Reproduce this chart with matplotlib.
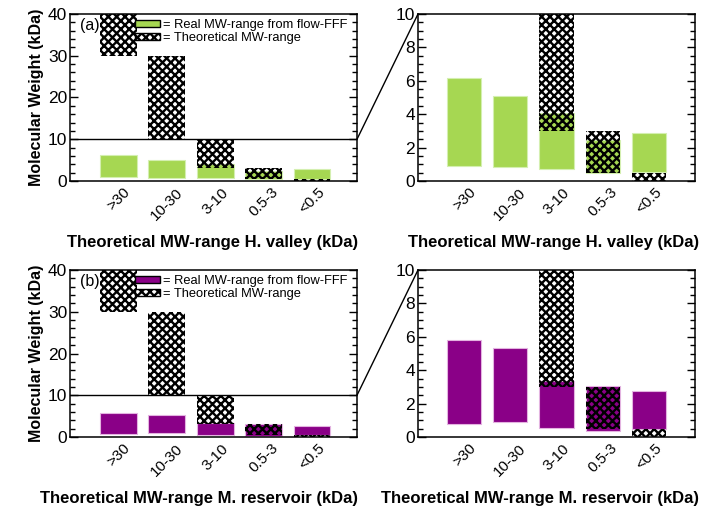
import matplotlib
matplotlib.use("Agg")
import matplotlib.pyplot as plt
from matplotlib.patches import Patch, ConnectionPatch
from matplotlib.ticker import MultipleLocator

plt.rcParams['font.family'] = ['Liberation Sans', 'DejaVu Sans']
plt.rcParams['hatch.linewidth'] = 1.7

categories = [">30", "10-30", "3-10", "0.5-3", "<0.5"]
theo_low = [30, 10, 3, 0.5, 0]
theo_high = [40, 30, 10, 3, 0.5]

hv_low = [0.88, 0.82, 0.70, 0.46, 0.52]
hv_high = [6.15, 5.08, 4.05, 2.45, 2.90]

mr_low = [0.80, 0.88, 0.56, 0.35, 0.45]
mr_high = [5.80, 5.34, 3.36, 3.08, 2.75]

green = "#a6d752"
green_edge = "#d4efb0"
purple = "#8a0087"
purple_edge = "#e3b3e0"

W, H = 707, 511
fig = plt.figure(figsize=(W / 100, H / 100), dpi=100)

def fx(px):
    return px / W

def fy(py):
    return 1 - py / H

panels = [
    dict(top=14, bot=181, low=hv_low, high=hv_high, col=green, edge=green_edge,
         tag="(a)", xlabel="Theoretical MW-range H. valley (kDa)",
         lxL=0.495, lxR=0.49),
    dict(top=270, bot=437, low=mr_low, high=mr_high, col=purple, edge=purple_edge,
         tag="(b)", xlabel="Theoretical MW-range M. reservoir (kDa)",
         lxL=0.449, lxR=0.44),
]

x = list(range(len(categories)))
HATCH = 'xxxx'

def style(ax, major, minor):
    ax.yaxis.set_major_locator(MultipleLocator(major))
    ax.yaxis.set_minor_locator(MultipleLocator(minor))
    ax.tick_params(axis='y', which='both', direction='in', left=True, right=True,
                   labelsize=12.5, width=1.0, pad=2)
    ax.tick_params(axis='y', which='major', length=6)
    ax.tick_params(axis='y', which='minor', length=3.5)
    ax.tick_params(axis='x', length=0, labelsize=11, pad=3)
    ax.set_xticks(x)
    ax.set_xticklabels(categories, rotation=45, ha='center')
    for s in ax.spines.values():
        s.set_linewidth(1.1)

for p in panels:
    h = (p['bot'] - p['top']) / H
    axL = fig.add_axes([fx(70), fy(p['bot']), fx(357 - 70), h])
    axR = fig.add_axes([fx(418), fy(p['bot']), fx(695 - 418), h])
    for ax, ylim, xlim, bw in ((axL, 40, (-1, 4.93), 0.76), (axR, 10, (-1, 5), 0.74)):
        heights_r = [hi - lo for lo, hi in zip(p['low'], p['high'])]
        ax.bar(x, heights_r, bottom=p['low'], width=bw, color=p['col'],
               edgecolor=p['edge'], linewidth=0.8, zorder=2)
        heights_t = [hi - lo for lo, hi in zip(theo_low, theo_high)]
        ax.bar(x, heights_t, bottom=theo_low, width=bw, facecolor='none',
               edgecolor='black', linewidth=0, hatch=HATCH, zorder=3)
        ax.set_ylim(0, ylim)
        ax.set_xlim(*xlim)
    style(axL, 10, 2)
    style(axR, 2, 0.5)
    axL.axhline(10, color='black', linewidth=1.0, zorder=4)
    axL.set_ylabel("Molecular Weight (kDa)", fontsize=11.5, fontweight='bold', labelpad=3)
    axL.set_xlabel(p['xlabel'], fontsize=12, fontweight='bold')
    axR.set_xlabel(p['xlabel'], fontsize=12, fontweight='bold')
    axL.xaxis.set_label_coords(p['lxL'], -0.325)
    axR.xaxis.set_label_coords(p['lxR'], -0.325)
    axL.text(0.035, 0.93, p['tag'], transform=axL.transAxes, fontsize=11.5,
             va='center', ha='left', zorder=5)
    handles = [Patch(facecolor=p['col'], edgecolor='black', linewidth=1.0),
               Patch(facecolor='white', edgecolor='black', linewidth=1.0, hatch=HATCH)]
    axL.legend(handles, ["= Real MW-range from flow-FFF", "= Theoretical MW-range"],
               loc='upper left', bbox_to_anchor=(0.225, 0.97), frameon=False,
               fontsize=9.3, handlelength=2.0, handleheight=0.45, handletextpad=0.2,
               labelspacing=0.1, borderaxespad=0.0, borderpad=0.0)
    con = ConnectionPatch(xyA=(1, 10), coordsA=axL.get_yaxis_transform(),
                          xyB=(0, 10), coordsB=axR.get_yaxis_transform(),
                          color='black', linewidth=1.0)
    fig.add_artist(con)

fig.savefig("out.png", dpi=100)
